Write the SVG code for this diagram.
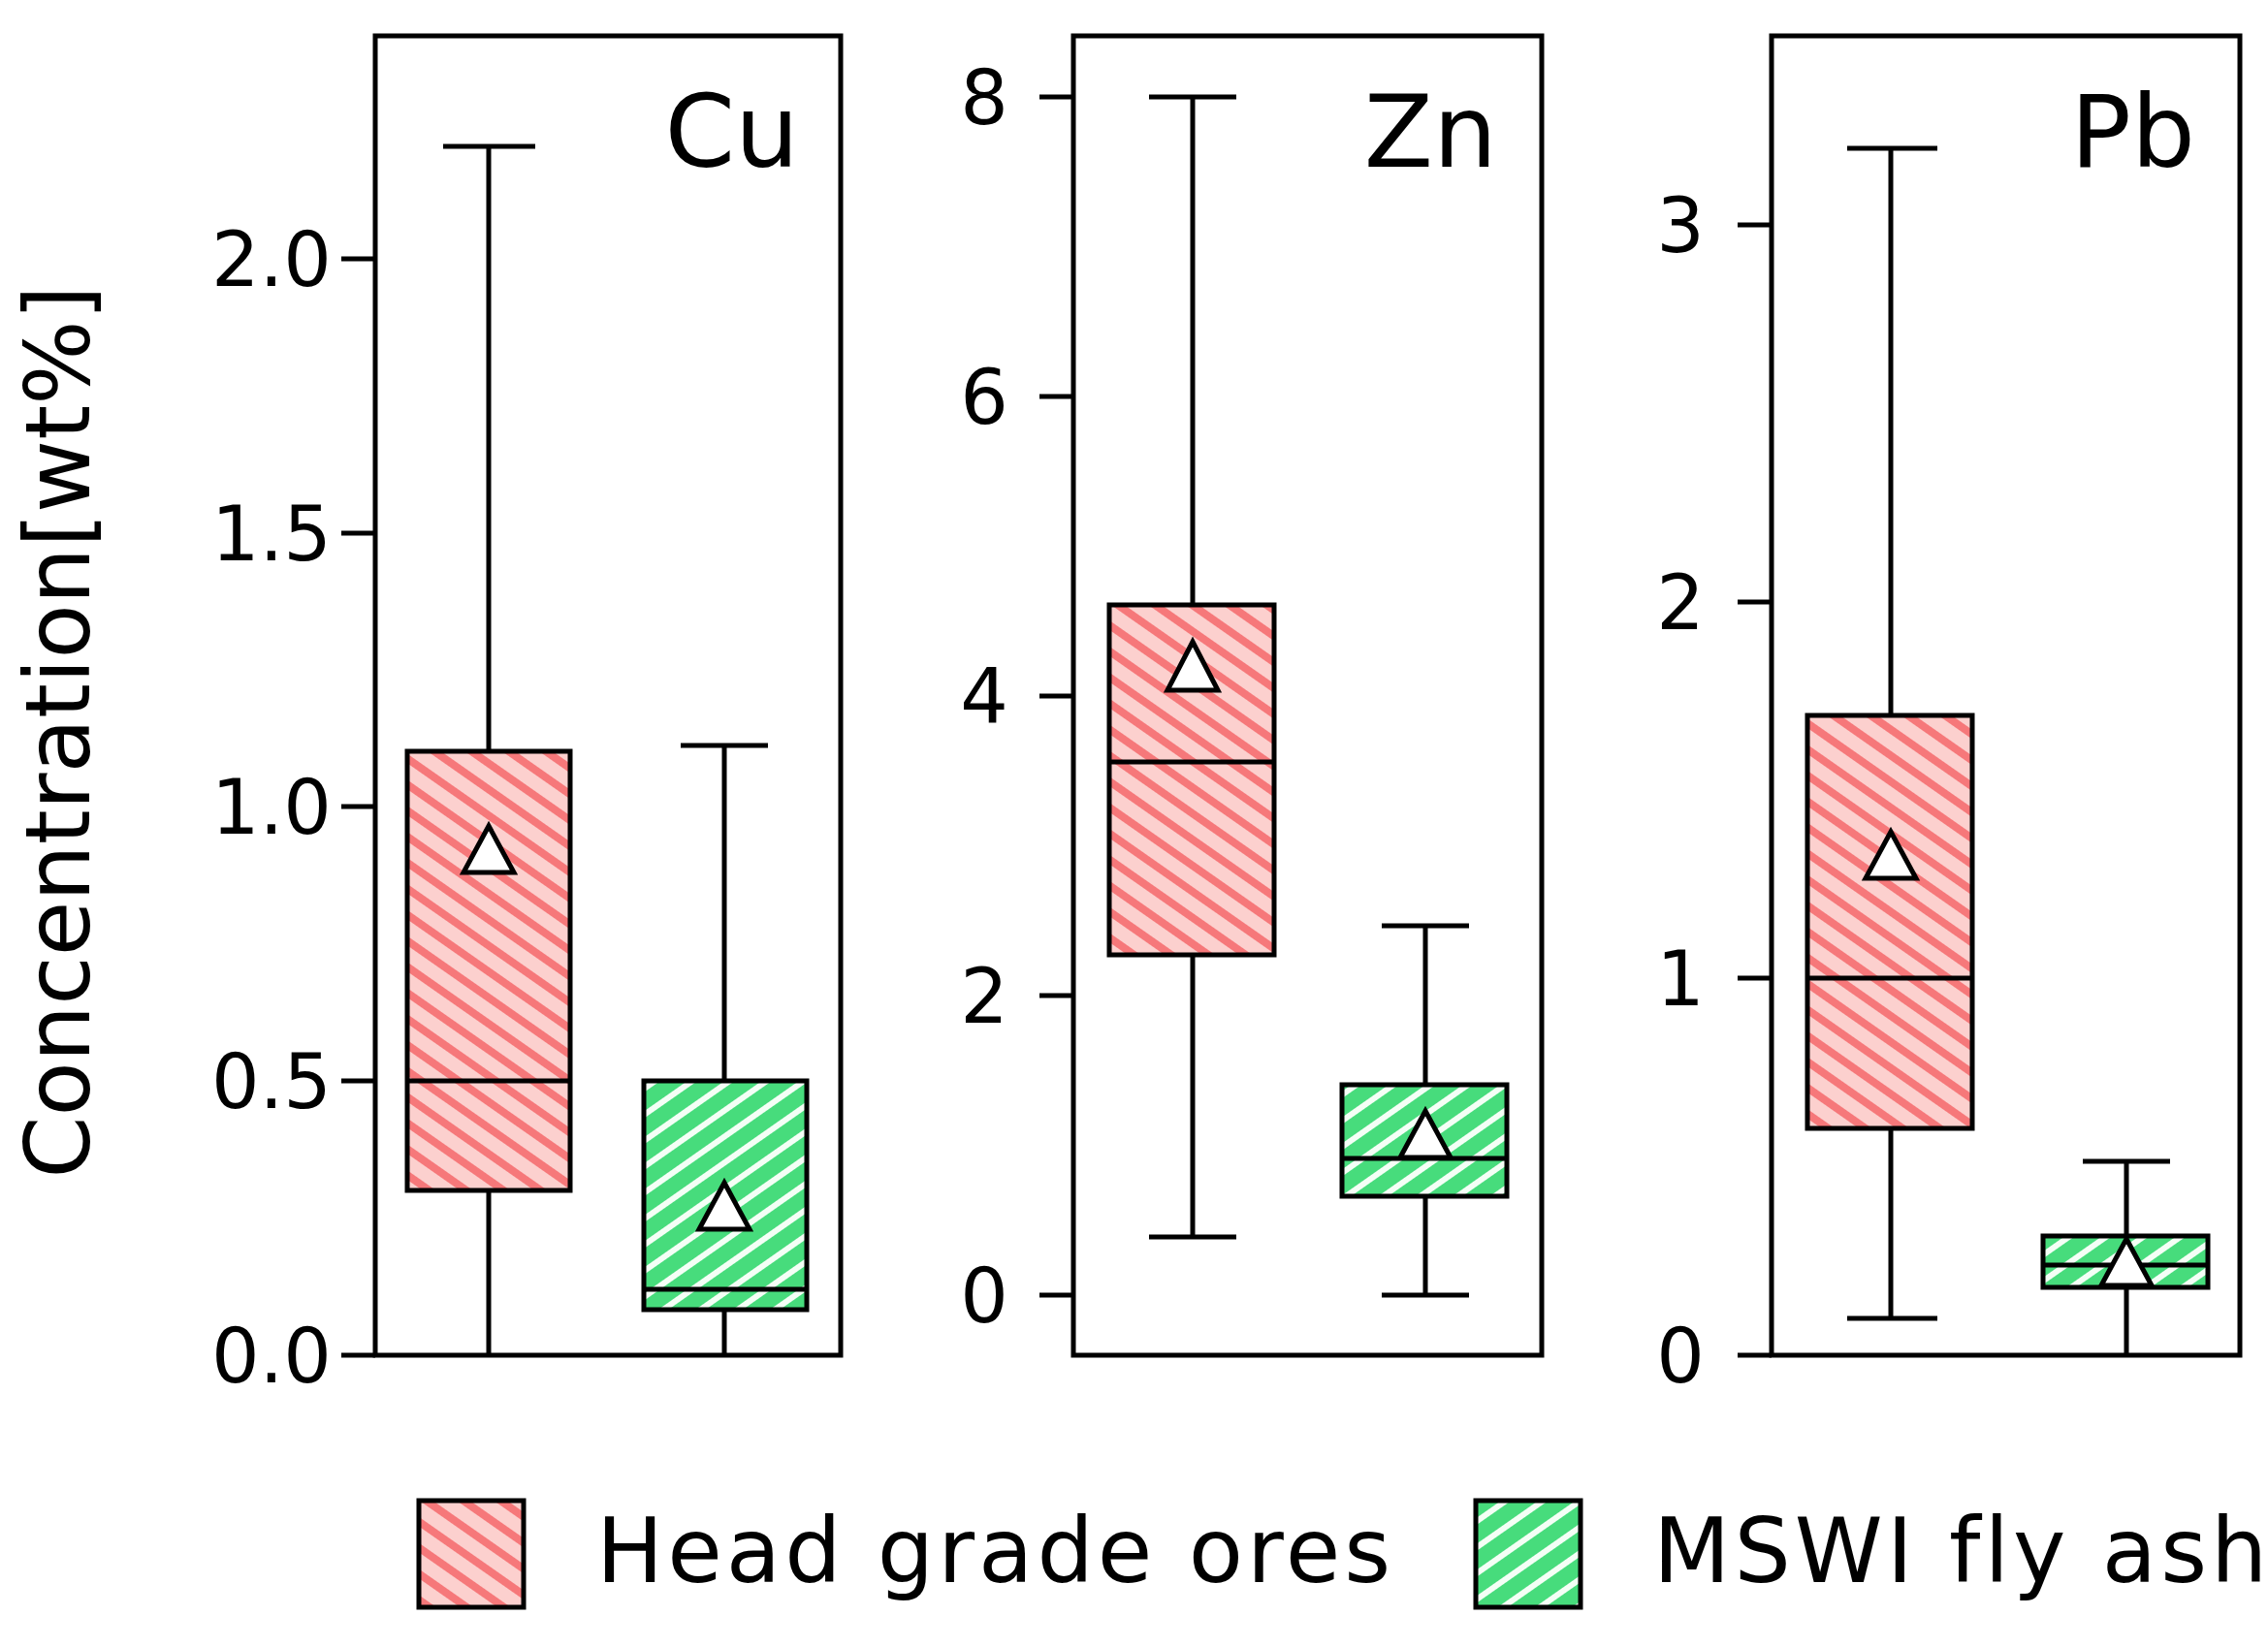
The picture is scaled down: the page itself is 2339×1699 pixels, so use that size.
<svg xmlns="http://www.w3.org/2000/svg" width="2339" height="1699" viewBox="0 0 2339 1699">
<defs>
<pattern id="pr" width="22" height="22" patternUnits="userSpaceOnUse" patternTransform="rotate(35)">
<rect width="22" height="22" fill="#fcd0ce"/><rect y="0" width="22" height="8" fill="#f6787a"/>
</pattern>
<pattern id="pg" width="22" height="22" patternUnits="userSpaceOnUse" patternTransform="rotate(-35)">
<rect width="22" height="22" fill="#47dc7c"/><rect y="0" width="22" height="6" fill="#f4fff6"/>
</pattern>
</defs>
<style>
.ax{fill:none;stroke:#000;stroke-width:5}
.w{stroke:#000;stroke-width:5;fill:none}
.br{fill:url(#pr);stroke:#000;stroke-width:5}
.bg{fill:url(#pg);stroke:#000;stroke-width:5}
.m{fill:#fff;stroke:#000;stroke-width:5;stroke-linejoin:miter}
text{font-family:"DejaVu Sans","Liberation Sans",sans-serif;fill:#000}
.tk{font-size:78px;text-anchor:end}
.el{font-size:104px;text-anchor:end}
.lg{font-size:92px;letter-spacing:4px}
</style>
<rect width="2339" height="1699" fill="#fff"/>
<g id="panel-cu">
<rect class="ax" x="387" y="37" width="480" height="1361"/>
<path class="w" d="M352 1398H387M352 1115H387M352 832H387M352 550H387M352 267H387"/>
<text class="tk" x="342" y="1426">0.0</text>
<text class="tk" x="342" y="1143">0.5</text>
<text class="tk" x="342" y="860">1.0</text>
<text class="tk" x="342" y="578">1.5</text>
<text class="tk" x="342" y="295">2.0</text>
<text class="el" x="824" y="172">Cu</text>
<path class="w" d="M504 151V775M457 151H552M504 1228V1398"/>
<rect class="br" x="420" y="775" width="168" height="453"/>
<path class="w" d="M420 1115H588"/>
<path class="m" d="M504 852L530 900H478Z"/>
<path class="w" d="M747 769V1115M702 769H792M747 1351V1398"/>
<rect class="bg" x="664" y="1115" width="168" height="236"/>
<path class="w" d="M664 1330H832"/>
<path class="m" d="M747 1220L773 1268H721Z"/>
</g>
<g id="panel-zn">
<rect class="ax" x="1107" y="37" width="483" height="1361"/>
<path class="w" d="M1072 1336H1107M1072 1027H1107M1072 718H1107M1072 409H1107M1072 100H1107"/>
<text class="tk" x="1040" y="1364">0</text>
<text class="tk" x="1040" y="1055">2</text>
<text class="tk" x="1040" y="746">4</text>
<text class="tk" x="1040" y="437">6</text>
<text class="tk" x="1040" y="128">8</text>
<text class="el" x="1544" y="172">Zn</text>
<path class="w" d="M1230 100V624M1185 100H1275M1230 985V1276M1185 1276H1275"/>
<rect class="br" x="1144" y="624" width="170" height="361"/>
<path class="w" d="M1144 786H1314"/>
<path class="m" d="M1230 662L1256 712H1204Z"/>
<path class="w" d="M1470 955V1119M1425 955H1515M1470 1234V1336M1425 1336H1515"/>
<rect class="bg" x="1384" y="1119" width="170" height="115"/>
<path class="w" d="M1384 1195H1554"/>
<path class="m" d="M1470 1146L1496 1194H1444Z"/>
</g>
<g id="panel-pb">
<rect class="ax" x="1827" y="37" width="483" height="1361"/>
<path class="w" d="M1792 1398H1827M1792 1009H1827M1792 621H1827M1792 232H1827"/>
<text class="tk" x="1758" y="1426">0</text>
<text class="tk" x="1758" y="1037">1</text>
<text class="tk" x="1758" y="649">2</text>
<text class="tk" x="1758" y="260">3</text>
<text class="el" x="2264" y="172">Pb</text>
<path class="w" d="M1950 153V738M1905 153H1998M1950 1164V1360M1905 1360H1998"/>
<rect class="br" x="1864" y="738" width="170" height="426"/>
<path class="w" d="M1864 1009H2034"/>
<path class="m" d="M1950 858L1976 906H1924Z"/>
<path class="w" d="M2193 1198V1275M2148 1198H2238M2193 1328V1398"/>
<rect class="bg" x="2107" y="1275" width="170" height="53"/>
<path class="w" d="M2107 1305H2277"/>
<path class="m" d="M2193 1278L2219 1326H2167Z"/>
</g>
<text id="ylabel" font-size="92" text-anchor="middle" transform="translate(92 755) rotate(-90)">Concentration[wt%]</text>
<g id="legend">
<rect class="br" x="432" y="1548" width="108" height="110"/>
<text class="lg" x="615" y="1632">Head grade ores</text>
<rect class="bg" x="1522" y="1548" width="108" height="110"/>
<text class="lg" x="1705" y="1632">MSWI fly ash</text>
</g>
</svg>
